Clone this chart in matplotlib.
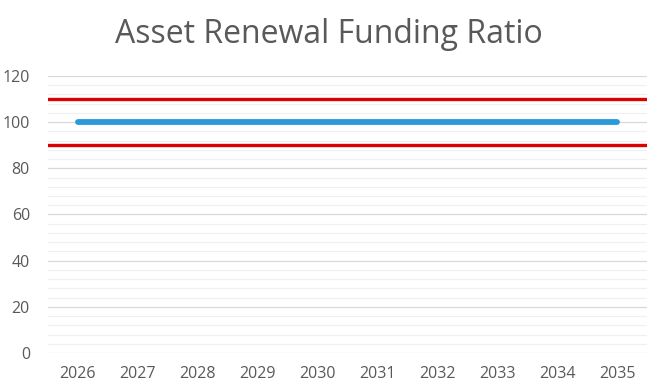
import numpy as np
import matplotlib.pyplot as plt
from matplotlib.ticker import MultipleLocator

years = ['2026', '2027', '2028', '2029', '2030', '2031', '2032', '2033', '2034', '2035']
ratio = [100, 100, 100, 100, 100, 100, 100, 100, 100, 100]
upper_limit = 110
lower_limit = 90

plt.rcParams['font.family'] = ['Open Sans', 'DejaVu Sans']
grey = '#595959'

fig = plt.figure(figsize=(6.57, 3.91), dpi=100)
ax = fig.add_axes([0.073, 0.097, 0.912, 0.709])

x = np.arange(len(years))
ax.axhline(upper_limit, color='#dd0000', lw=2.4, zorder=3)
ax.axhline(lower_limit, color='#dd0000', lw=2.4, zorder=3)
ax.plot(x, ratio, color='#2a9ad8', lw=4.2, solid_capstyle='round', zorder=4)

ax.set_xlim(-0.5, len(years) - 0.5)
ax.set_ylim(0, 120)
ax.set_xticks(x)
ax.set_xticklabels(years)
ax.yaxis.set_major_locator(MultipleLocator(20))
ax.yaxis.set_minor_locator(MultipleLocator(4))
ax.grid(axis='y', which='major', color='#d9d9d9', lw=0.9)
ax.grid(axis='y', which='minor', color='#f0f0f0', lw=0.9)
ax.set_axisbelow(True)
for s in ax.spines.values():
    s.set_visible(False)
ax.tick_params(axis='both', which='both', length=0, labelsize=11.5, colors=grey, pad=9)
ax.tick_params(axis='y', pad=13)

fig.suptitle('Asset Renewal Funding Ratio', y=0.955, fontsize=23, color=grey)

fig.savefig('out.png', dpi=100)
